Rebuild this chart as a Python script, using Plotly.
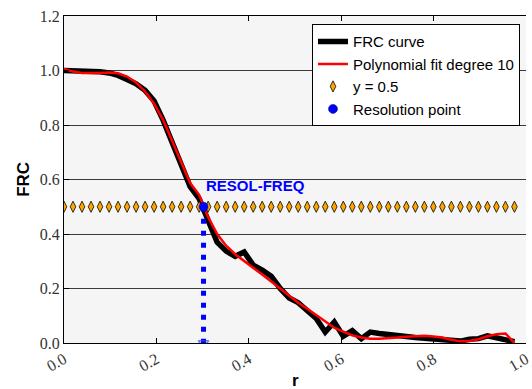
import numpy as np
import plotly.graph_objects as go

# Spatial frequency samples (normalised radius)
r = np.linspace(0.0, 0.975, 51)

# Measured Fourier ring correlation
frc = [1.000, 1.000, 0.999, 0.998, 0.995, 0.991, 0.982, 0.967, 0.951, 0.927,
       0.888, 0.818, 0.732, 0.652, 0.574, 0.530, 0.456, 0.370, 0.337, 0.318,
       0.334, 0.286, 0.268, 0.245, 0.200, 0.165, 0.148, 0.122, 0.090, 0.040,
       0.077, 0.025, 0.045, 0.016, 0.040, 0.035, 0.030, 0.028, 0.024, 0.020,
       0.017, 0.014, 0.010, 0.008, 0.007, 0.014, 0.016, 0.026, 0.018, 0.012,
       0.005]

# Degree-10 polynomial fit of the FRC
fit = [1.006, 0.996, 0.991, 0.990, 0.991, 0.993, 0.990, 0.978, 0.956, 0.923,
       0.878, 0.819, 0.742, 0.665, 0.587, 0.544, 0.462, 0.400, 0.357, 0.326,
       0.300, 0.276, 0.251, 0.226, 0.199, 0.172, 0.148, 0.126, 0.102, 0.079,
       0.056, 0.042, 0.028, 0.020, 0.016, 0.016, 0.017, 0.020, 0.023, 0.026,
       0.027, 0.024, 0.020, 0.012, 0.006, 0.007, 0.014, 0.025, 0.032, 0.035,
       0.000]

threshold = [0.5] * len(r)

# Resolution point where the curve crosses the threshold
res_r = 0.302
res_frc = 0.5

x_ticks = [0.0, 0.2, 0.4, 0.6, 0.8, 1.0]
y_ticks = [0.0, 0.2, 0.4, 0.6, 0.8, 1.0, 1.2]

SERIF = "Liberation Serif"
SANS = "Liberation Sans"

fig = go.Figure()

fig.add_trace(go.Scatter(
    x=r, y=frc, mode="lines", name="FRC curve",
    line=dict(color="black", width=5.5)))

fig.add_trace(go.Scatter(
    x=r, y=fit, mode="lines", name="Polynomial fit degree 10",
    line=dict(color="#ff0000", width=2.5)))

fig.add_trace(go.Scatter(
    x=r, y=threshold, mode="markers", name="y = 0.5",
    marker=dict(symbol="diamond-tall", size=8, color="orange",
                line=dict(color="black", width=0.8))))

# dotted drop line from the resolution point to the axis
fig.add_trace(go.Scatter(
    x=[res_r, res_r], y=[res_frc, 0.0], mode="lines+markers",
    showlegend=False,
    line=dict(color="#0000ff", width=5, dash="5px,7px"),
    marker=dict(symbol=["circle", "triangle-down-open"], size=[1, 9],
                color="#3344ff", line=dict(color="#3344ff", width=1.5))))

fig.add_trace(go.Scatter(
    x=[res_r], y=[res_frc], mode="markers", name="Resolution point",
    marker=dict(symbol="circle", size=9, color="#0000ff",
                line=dict(color="#000080", width=0.5))))

fig.add_annotation(
    x=res_r, y=0.538, xref="x", yref="y", text="<b>RESOL-FREQ</b>",
    showarrow=False, xanchor="left", yanchor="bottom",
    font=dict(family=SANS, size=15, color="#0000ff"))

# axis titles
fig.add_annotation(
    x=-0.088, y=0.5, xref="paper", yref="paper", text="<b>FRC</b>",
    textangle=-90, showarrow=False, xanchor="center", yanchor="middle",
    font=dict(family=SANS, size=17, color="black"))
fig.add_annotation(
    x=0.5, y=-0.08, xref="paper", yref="paper", text="<b>r</b>",
    showarrow=False, xanchor="center", yanchor="top",
    font=dict(family=SANS, size=17, color="black"))

fig.update_layout(
    width=532, height=389,
    margin=dict(l=64, r=0, t=16, b=46),
    paper_bgcolor="white",
    plot_bgcolor="#f5f5f5",
    showlegend=True,
    legend=dict(
        x=0.987, y=0.975, xanchor="right", yanchor="top",
        bgcolor="white", bordercolor="black", borderwidth=1,
        font=dict(family=SANS, size=15, color="black"),
        tracegroupgap=0, itemwidth=30),
    xaxis=dict(
        range=[0, 1.0], tickvals=x_ticks, tickformat=".1f",
        tickangle=-30, showgrid=False, zeroline=False,
        showline=True, linecolor="black", linewidth=1, mirror="ticks",
        ticks="inside", ticklen=5, tickcolor="black",
        ticklabeloverflow="allow",
        tickfont=dict(family=SERIF, size=16, color="#333333")),
    yaxis=dict(
        range=[0, 1.2], tickvals=y_ticks, tickformat=".1f",
        showgrid=True, gridcolor="#3a3a3a", gridwidth=1, zeroline=False,
        showline=True, linecolor="black", linewidth=1,
        ticks="inside", ticklen=5, tickcolor="black",
        tickfont=dict(family=SERIF, size=16, color="#333333")),
)

fig.write_html("out.html")
